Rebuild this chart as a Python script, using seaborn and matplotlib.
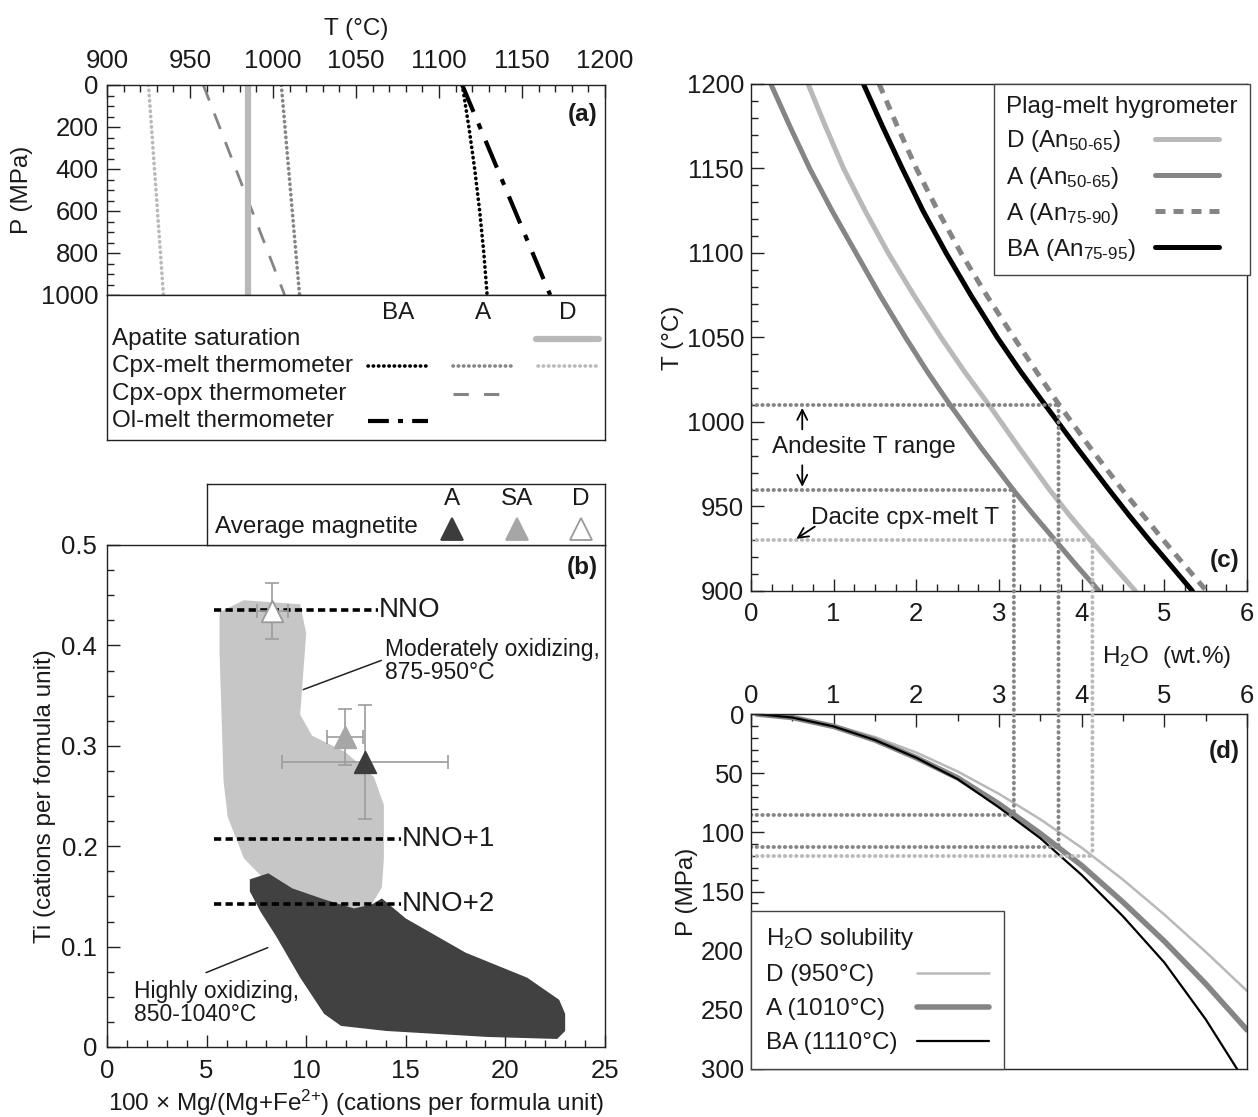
import numpy as np
import pandas as pd
import matplotlib
matplotlib.use("Agg")
import matplotlib.pyplot as plt
import seaborn as sns
from matplotlib.patches import ConnectionPatch
from matplotlib.lines import Line2D
from matplotlib.ticker import MultipleLocator, FuncFormatter
from matplotlib.mathtext import MathTextParser

# ---------------- data ----------------
# (a) thermometers: T (°C) at P (MPa)
a_P_ends = [0, 1000]
a_apatite_D = [985, 985]
a_cpxmelt_D = [925, 934]
a_cpxmelt_A = [1005, 1016]
a_cpxopx_A = [958, 1007]
a_olmelt_BA = [1114, 1167]
a_cpxmelt_BA_P = [0, 200, 400, 600, 800, 1000]
a_cpxmelt_BA_T = [1114, 1118, 1121.5, 1124.5, 1127, 1129]
a_columns = ["BA", "A", "D"]
a_rows = ["Apatite saturation", "Cpx-melt thermometer",
          "Cpx-opx thermometer", "Ol-melt thermometer"]

# (b) magnetite fields
mod_x = [5.65, 6.87, 9.7, 10.0, 9.8, 9.7, 10.3, 11.95, 13.4, 13.9, 13.9,
         13.8, 13.2, 11.95, 10.5, 8.1, 6.87, 6.06, 5.85, 5.75, 5.65]
mod_y = [0.433, 0.445, 0.441, 0.412, 0.359, 0.331, 0.310, 0.294, 0.269,
         0.241, 0.188, 0.159, 0.139, 0.137, 0.145, 0.163, 0.188, 0.229,
         0.265, 0.331, 0.392]
high_x = [7.17, 8.1, 9.3, 10.9, 12.4, 13.3, 13.8, 15.0, 18.0, 21.1, 22.7,
          23.0, 23.0, 22.6, 19.1, 14.0, 11.75, 10.9, 9.7, 8.5, 7.7, 7.17]
high_y = [0.167, 0.173, 0.158, 0.147, 0.138, 0.142, 0.148, 0.128, 0.094,
          0.069, 0.047, 0.033, 0.016, 0.008, 0.010, 0.016, 0.021, 0.033,
          0.069, 0.110, 0.135, 0.155]
nno_labels = ["NNO", "NNO+1", "NNO+2"]
nno_y = [0.435, 0.207, 0.142]
nno_x0 = [5.35, 5.35, 5.35]
nno_x1 = [13.6, 14.75, 14.75]
mag_names = ["A", "SA", "D"]
mag_x = [12.95, 11.93, 8.3]
mag_y = [0.284, 0.309, 0.434]
mag_xerr = [4.15, 0.9, 0.78]
mag_yerr = [0.057, 0.028, 0.028]

# (c) plagioclase-melt hygrometer: H2O (wt.%) at T (°C)
c_T =   [1200, 1175, 1150, 1125, 1100, 1075, 1050, 1030, 1010, 985, 960, 945, 930, 915, 900]
c_D50 = [0.69, 0.90, 1.12, 1.38, 1.66, 1.97, 2.30, 2.58, 2.88, 3.24, 3.61, 3.85, 4.11, 4.38, 4.65]
c_A50 = [0.24, 0.47, 0.71, 0.98, 1.27, 1.56, 1.87, 2.13, 2.41, 2.78, 3.17, 3.42, 3.68, 3.94, 4.21]
c_A75 = [1.55, 1.77, 2.00, 2.26, 2.54, 2.85, 3.18, 3.45, 3.73, 4.10, 4.49, 4.74, 4.99, 5.25, 5.51]
c_BA =  [1.36, 1.59, 1.83, 2.08, 2.36, 2.66, 2.98, 3.26, 3.56, 3.94, 4.33, 4.57, 4.82, 5.08, 5.34]
guide_T = [1010, 960, 930]
guide_H2O = [3.72, 3.18, 4.13]
guide_P = [112, 85, 120]

# (d) H2O solubility: P (MPa) at H2O (wt.%)
d_H2O = [0.07, 0.5, 1.0, 1.5, 2.0, 2.5, 3.0, 3.5, 4.0, 4.5, 5.0, 5.5, 6.0]
d_D =   [0, 3, 9.4, 19.5, 32.6, 48.6, 67.5, 89, 113, 140, 169.5, 201, 234]
d_A =   [0, 3, 10.5, 22, 37, 54, 76, 101, 128, 159, 192, 228, 267]
d_BA_H2O = [0.07, 0.5, 1.0, 1.5, 2.0, 2.5, 3.0, 3.5, 4.0, 4.5, 5.0, 5.5, 5.88]
d_BA =  [0, 3, 10.5, 22, 37, 55, 79, 105, 136, 171, 210, 258, 300]

# ---------------- style ----------------
sns.set_style("white")
plt.rcParams["font.family"] = ["Liberation Sans", "DejaVu Sans"]
plt.rcParams["mathtext.fontset"] = "custom"
plt.rcParams["mathtext.rm"] = "Liberation Sans"
plt.rcParams["mathtext.it"] = "Liberation Sans:italic"
plt.rcParams["mathtext.bf"] = "Liberation Sans:bold"
plt.rcParams["text.color"] = "#1a1a1a"
plt.rcParams["axes.labelcolor"] = "#1a1a1a"

_mt = MathTextParser("path")
def _ok(s):
    try:
        _mt.parse(s)
        return True
    except Exception:
        return False
HY = r"\text{-}" if _ok(r"$_{50\text{-}65}$") else "{-}"
PL = r"\text{+}" if _ok(r"$^{2\text{+}}$") else "+"

LIGHT = "#b9b9b9"
MID = "#858585"
DARK = "#3c3c3c"
FS = 17.5
TFS = 18.5
DOT = (0, (0.1, 1.35))

W, H = 1258, 1117
fig = plt.figure(figsize=(W / 100, H / 100), dpi=100)

def add_axes(x0, y0, x1, y1):
    return fig.add_axes([x0 / W, 1 - y1 / H, (x1 - x0) / W, (y1 - y0) / H])

def style(ax, top=False, xpad=8, ypad=6):
    for s in ax.spines.values():
        s.set_color("#222222")
        s.set_linewidth(1.0)
    ax.tick_params(which="both", direction="in", colors="#222222",
                   labelsize=TFS, labelcolor="#1a1a1a",
                   top=top, bottom=not top, labeltop=top, labelbottom=not top,
                   left=True, right=False)
    ax.tick_params(which="major", length=9, width=1)
    ax.tick_params(which="minor", length=5, width=1)
    ax.tick_params(axis="x", which="major", pad=xpad)
    ax.tick_params(axis="y", which="major", pad=ypad)
    fmt = FuncFormatter(lambda v, p: f"{v:g}")
    ax.xaxis.set_major_formatter(fmt)
    ax.yaxis.set_major_formatter(fmt)

def line(ax, x, y, **kw):
    df = pd.DataFrame({"x": x, "y": y})
    sns.lineplot(data=df, x="x", y="y", sort=False, estimator=None, ax=ax, **kw)
    return ax.lines[-1]

# ---------------- panel (a) ----------------
ax_a = add_axes(107, 85, 605, 295)
line(ax_a, a_cpxmelt_D, a_P_ends, color=LIGHT, lw=2.6, linestyle=DOT, dash_capstyle="round")
line(ax_a, a_cpxopx_A, a_P_ends, color=MID, lw=2.0, linestyle=(0, (6, 5)))
line(ax_a, a_apatite_D, a_P_ends, color=LIGHT, lw=4.5)
line(ax_a, a_cpxmelt_A, a_P_ends, color=MID, lw=2.6, linestyle=DOT, dash_capstyle="round")
line(ax_a, a_cpxmelt_BA_T, a_cpxmelt_BA_P, color="black", lw=2.6, linestyle=DOT, dash_capstyle="round")
line(ax_a, a_olmelt_BA, a_P_ends, color="black", lw=3.0, linestyle=(0, (7, 3, 1.5, 3)))
ax_a.set_xlim(900, 1200)
ax_a.set_ylim(1000, 0)
ax_a.xaxis.set_major_locator(MultipleLocator(50))
ax_a.xaxis.set_minor_locator(MultipleLocator(10))
ax_a.yaxis.set_major_locator(MultipleLocator(200))
ax_a.yaxis.set_minor_locator(MultipleLocator(50))
style(ax_a, top=True, xpad=9)
ax_a.xaxis.set_label_position("top")
ax_a.set_xlabel("T (°C)", fontsize=FS, labelpad=10)
ax_a.set_ylabel("P (MPa)", fontsize=FS, labelpad=6)
ax_a.text(0.985, 0.86, "(a)", transform=ax_a.transAxes, ha="right", va="center",
          fontsize=FS, fontweight="bold")

# legend table of (a)
ax_al = add_axes(107, 295, 605, 440)
ax_al.set_xlim(0, 1); ax_al.set_ylim(0, 1)
ax_al.set_xticks([]); ax_al.set_yticks([])
for s in ax_al.spines.values():
    s.set_color("#222222"); s.set_linewidth(1.0)
col_x = [0.584, 0.755, 0.926]
row_y = [0.698, 0.511, 0.318, 0.13]
for cx, name in zip(col_x, a_columns):
    ax_al.text(cx, 0.875, name, ha="center", va="center", fontsize=FS)
for ry, name in zip(row_y, a_rows):
    ax_al.text(0.0105, ry, name, ha="left", va="center", fontsize=FS)
samples = [
    (0, 2, dict(color=LIGHT, lw=4.5)),
    (1, 0, dict(color="black", lw=2.6, linestyle=DOT, dash_capstyle="round")),
    (1, 1, dict(color=MID, lw=2.6, linestyle=DOT, dash_capstyle="round")),
    (1, 2, dict(color=LIGHT, lw=2.6, linestyle=DOT, dash_capstyle="round")),
    (2, 1, dict(color=MID, lw=2.2, linestyle=(0, (5, 5)))),
    (3, 0, dict(color="black", lw=3.0, linestyle=(0, (5, 2.2, 1.2, 2.2)))),
]
for r, c, kw in samples:
    x0 = col_x[c] - 0.06
    x1 = col_x[c] + 0.06
    if c == 2 and r == 0:
        x0, x1 = 0.861, 0.988
    ax_al.add_line(Line2D([x0, x1], [row_y[r], row_y[r]], **kw))

# ---------------- panel (b) ----------------
ax_b = add_axes(107, 545, 605, 1047)
ax_b.fill(mod_x, mod_y, color="#c6c6c6", lw=0, zorder=1)
ax_b.fill(high_x, high_y, color="#414141", lw=0, zorder=2)
for lab, yv, x0, x1 in zip(nno_labels, nno_y, nno_x0, nno_x1):
    line(ax_b, [x0, x1], [yv, yv], color="black", lw=2.6, linestyle=(0, (2.0, 1.2)), zorder=3)
    ax_b.text(x1 + 0.05, yv, lab, ha="left", va="center", fontsize=20, zorder=4)
ax_b.errorbar(mag_x, mag_y, xerr=mag_xerr, yerr=mag_yerr, fmt="none",
              ecolor="#9c9c9c", elinewidth=1.2, capsize=5, capthick=1.2, zorder=4)
mag_face = {"A": DARK, "SA": "#a6a6a6", "D": "white"}
mag_edge = {"A": DARK, "SA": "#a6a6a6", "D": "#9a9a9a"}
for n, xv, yv in zip(mag_names, mag_x, mag_y):
    sns.scatterplot(x=[xv], y=[yv], marker="^", s=240, color=mag_face[n],
                    edgecolor=mag_edge[n], linewidth=1.3, ax=ax_b, zorder=5, legend=False)
ax_b.annotate("", xy=(9.72, 0.355), xytext=(13.9, 0.386),
              arrowprops=dict(arrowstyle="-", color="#222222", lw=1.1))
ax_b.text(13.98, 0.384, "Moderately oxidizing,\n875-950°C", ha="left", va="center",
          fontsize=16.5, linespacing=1.0)
ax_b.annotate("", xy=(8.2, 0.100), xytext=(4.84, 0.073),
              arrowprops=dict(arrowstyle="-", color="#222222", lw=1.1))
ax_b.text(1.38, 0.044, "Highly oxidizing,\n850-1040°C", ha="left", va="center",
          fontsize=16.5, linespacing=1.0)
ax_b.set_xlim(0, 25)
ax_b.set_ylim(0, 0.5)
ax_b.xaxis.set_major_locator(MultipleLocator(5))
ax_b.xaxis.set_minor_locator(MultipleLocator(1))
ax_b.yaxis.set_major_locator(MultipleLocator(0.1))
ax_b.yaxis.set_minor_locator(MultipleLocator(0.025))
style(ax_b, xpad=9, ypad=7)
ax_b.set_xlabel("100 × Mg/(Mg+Fe$^{2" + PL + "}$) (cations per formula unit)", fontsize=FS, labelpad=3)
ax_b.set_ylabel("Ti (cations per formula unit)", fontsize=FS, labelpad=4)
ax_b.text(0.985, 0.955, "(b)", transform=ax_b.transAxes, ha="right", va="center",
          fontsize=FS, fontweight="bold")

# legend of (b)
ax_bl = add_axes(207, 484, 605, 545)
ax_bl.set_xlim(0, 1); ax_bl.set_ylim(0, 1)
ax_bl.set_xticks([]); ax_bl.set_yticks([])
for s in ax_bl.spines.values():
    s.set_color("#222222"); s.set_linewidth(1.0)
ax_bl.text(0.021, 0.29, "Average magnetite", ha="left", va="center", fontsize=FS)
bl_x = [0.616, 0.78, 0.94]
for bx, n in zip(bl_x, mag_names):
    ax_bl.text(bx, 0.76, n, ha="center", va="center", fontsize=FS)
    ax_bl.plot([bx], [0.27], marker="^", ms=16, color=mag_face[n],
               markeredgecolor=mag_edge[n], markeredgewidth=1.3, ls="none")

# ---------------- panel (c) ----------------
ax_c = add_axes(751, 84, 1247, 591)
hc = []
hc.append(line(ax_c, c_D50, c_T, color=LIGHT, lw=3.6))
hc.append(line(ax_c, c_A50, c_T, color=MID, lw=3.6))
hc.append(line(ax_c, c_A75, c_T, color=MID, lw=3.6, linestyle=(0, (2.0, 1.6))))
hc.append(line(ax_c, c_BA, c_T, color="black", lw=3.6))
c_labels = ["D (An$_{50" + HY + "65}$)", "A (An$_{50" + HY + "65}$)",
            "A (An$_{75" + HY + "90}$)", "BA (An$_{75" + HY + "95}$)"]
guide_col = [MID, MID, LIGHT]
for tg, xg, col in zip(guide_T, guide_H2O, guide_col):
    line(ax_c, [0, xg], [tg, tg], color=col, lw=2.8, linestyle=DOT, dash_capstyle="round")
ax_c.annotate("", xy=(0.62, 1010), xytext=(0.62, 994),
              arrowprops=dict(arrowstyle="->", color="black", lw=1.3, mutation_scale=18))
ax_c.annotate("", xy=(0.62, 960), xytext=(0.62, 976),
              arrowprops=dict(arrowstyle="->", color="black", lw=1.3, mutation_scale=18))
ax_c.text(0.25, 985, "Andesite T range", ha="left", va="center", fontsize=FS)
ax_c.text(0.73, 943, "Dacite cpx-melt T", ha="left", va="center", fontsize=FS)
ax_c.annotate("", xy=(0.52, 930), xytext=(0.80, 939),
              arrowprops=dict(arrowstyle="->", color="black", lw=1.3, mutation_scale=18))
ax_c.set_xlim(0, 6)
ax_c.set_ylim(900, 1200)
ax_c.xaxis.set_major_locator(MultipleLocator(1))
ax_c.xaxis.set_minor_locator(MultipleLocator(0.25))
ax_c.yaxis.set_major_locator(MultipleLocator(50))
ax_c.yaxis.set_minor_locator(MultipleLocator(10))
style(ax_c, xpad=8, ypad=5)
ax_c.set_xlabel("")
ax_c.set_ylabel("T (°C)", fontsize=FS, labelpad=2)
ax_c.text(0.837, -0.13, "H$_2$O  (wt.%)", transform=ax_c.transAxes, ha="center",
          va="center", fontsize=FS)
ax_c.text(0.985, 0.06, "(c)", transform=ax_c.transAxes, ha="right", va="center",
          fontsize=FS, fontweight="bold")
leg_c = ax_c.legend(hc, c_labels, title="Plag-melt hygrometer", loc="upper right",
                    bbox_to_anchor=(1.006, 1.0), borderaxespad=0, markerfirst=False,
                    fontsize=FS, title_fontsize=FS, handlelength=2.6, labelspacing=0.42,
                    frameon=True, fancybox=False, edgecolor="#444444", framealpha=1,
                    alignment="left", borderpad=0.5, handletextpad=0.8)
leg_c.get_frame().set_linewidth(1.0)

# ---------------- panel (d) ----------------
ax_d = add_axes(751, 714, 1247, 1069)
hd = []
hd.append(line(ax_d, d_H2O, d_D, color=LIGHT, lw=1.8))
hd.append(line(ax_d, d_H2O, d_A, color=MID, lw=4.0))
hd.append(line(ax_d, d_BA_H2O, d_BA, color="black", lw=1.6))
for pg, xg, col in zip(guide_P, guide_H2O, guide_col):
    line(ax_d, [0, xg], [pg, pg], color=col, lw=2.8, linestyle=DOT, dash_capstyle="round")
ax_d.set_xlim(0, 6)
ax_d.set_ylim(300, 0)
ax_d.xaxis.set_major_locator(MultipleLocator(1))
ax_d.xaxis.set_minor_locator(MultipleLocator(0.5))
ax_d.yaxis.set_major_locator(MultipleLocator(50))
ax_d.yaxis.set_minor_locator(MultipleLocator(10))
style(ax_d, top=True, xpad=4, ypad=5)
ax_d.set_xlabel("")
ax_d.set_ylabel("P (MPa)", fontsize=FS, labelpad=2)
ax_d.text(0.985, 0.895, "(d)", transform=ax_d.transAxes, ha="right", va="center",
          fontsize=FS, fontweight="bold")
leg_d = ax_d.legend(hd, ["D (950°C)", "A (1010°C)", "BA (1110°C)"],
                    title="H$_2$O solubility", loc="lower left", borderaxespad=0,
                    markerfirst=False, fontsize=FS, title_fontsize=FS, handlelength=3.0,
                    labelspacing=0.5, frameon=True, fancybox=False, edgecolor="#444444",
                    framealpha=1, alignment="left", borderpad=0.6, handletextpad=0.8)
leg_d.get_frame().set_linewidth(1.0)

# dotted verticals linking (c) and (d)
for tg, pg, xg, col in zip(guide_T, guide_P, guide_H2O, guide_col):
    con = ConnectionPatch(xyA=(xg, tg), coordsA=ax_c.transData,
                          xyB=(xg, pg), coordsB=ax_d.transData,
                          color=col, lw=2.8, linestyle=DOT, capstyle="round", zorder=3)
    fig.add_artist(con)

# left-align legend labels while keeping the line samples in one column
fig.canvas.draw()
rend = fig.canvas.get_renderer()
for leg in (leg_c, leg_d):
    try:
        items = []
        for col in leg._legend_handle_box.get_children():
            for hp in col.get_children():
                ta = hp.get_children()[0]
                w = ta._text.get_window_extent(rend).width
                items.append((hp, w))
        mw = max(w for _, w in items)
        for hp, w in items:
            hp.sep = hp.sep + (mw - w) * 72.0 / fig.dpi
    except Exception:
        pass

fig.savefig("out.png", dpi=100)
